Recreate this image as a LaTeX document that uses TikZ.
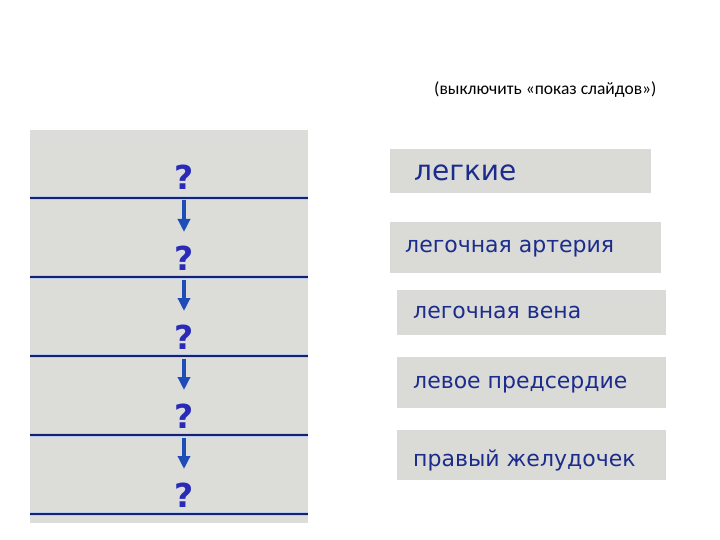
\documentclass[tikz,border=0pt]{standalone}
\usepackage{fontspec}
\setmainfont{DejaVu Sans}
\newfontfamily\capfont{Carlito}
\usetikzlibrary{arrows.meta}
\definecolor{panelgray}{HTML}{DCDCD8}
\definecolor{boxgray}{HTML}{DADAD6}
\definecolor{qblue}{HTML}{2A2AB8}
\definecolor{arblue}{HTML}{1E4DB8}
\definecolor{navy}{HTML}{1A2070}
\definecolor{halo}{HTML}{B8CCEE}
\definecolor{txtblue}{HTML}{1C2C8C}
\tikzset{
  qmark/.style={anchor=base, text=qblue, inner sep=0pt, font=\bfseries\fontsize{33}{33}\selectfont},
  arr/.style={draw=arblue, line width=4pt, -{Triangle[width=12pt,length=13pt]}, shorten <=10pt, shorten >=38pt},
  rowline/.style={draw=navy, line width=1.3pt},
  rowhalo/.style={draw=halo, line width=4pt},
  atext/.style={anchor=west, text=txtblue, inner sep=0pt, font=\fontsize{22}{22}\selectfont},
}
\begin{document}
\begin{tikzpicture}[x=1pt,y=-1pt]
\useasboundingbox[fill=white] (0,0) rectangle (720,540);
% title
\node[anchor=base west, inner sep=0pt, font=\capfont\fontsize{17.5}{18}\selectfont] (title) at (434,95) {(выключить «показ слайдов»)};
% left panel
\fill[panelgray] (30,130) rectangle (308,523);
\foreach \y in {198,277,356,435,514} {
  \draw[rowhalo] (30,\y) -- (308,\y);
  \draw[rowline] (30,\y) -- (308,\y);
}
\node[qmark] (q1) at (184,190) {?};
\node[qmark] (q2) at (184,270) {?};
\node[qmark] (q3) at (184,349) {?};
\node[qmark] (q4) at (184,428) {?};
\node[qmark] (q5) at (184,507) {?};
\draw[arr] (q1.base) -- (q2.base);
\draw[arr] (q2.base) -- (q3.base);
\draw[arr] (q3.base) -- (q4.base);
\draw[arr] (q4.base) -- (q5.base);
% answer boxes
\fill[boxgray] (390,149) rectangle (651,193);
\fill[boxgray] (390,222) rectangle (661,273);
\fill[boxgray] (397,290) rectangle (666,335);
\fill[boxgray] (397,357) rectangle (666,408);
\fill[boxgray] (397,430) rectangle (666,480);
\node[atext, font=\fontsize{28}{28}\selectfont] (a1) at (414,173) {легкие};
\node[atext] (a2) at (405,249) {легочная артерия};
\node[atext] (a3) at (413,312) {легочная вена};
\node[atext] (a4) at (413,385) {левое предсердие};
\node[atext] (a5) at (413,460) {правый желудочек};
\end{tikzpicture}
\end{document}
